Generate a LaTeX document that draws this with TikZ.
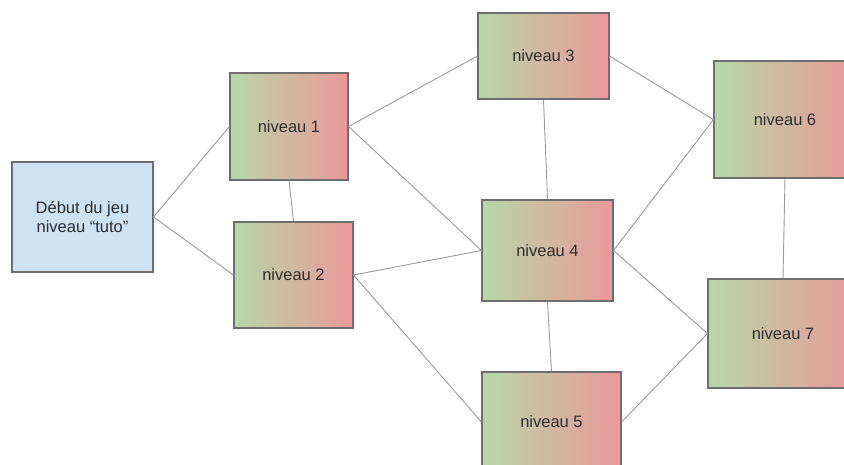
\documentclass[tikz,border=0pt]{standalone}
\usepackage{fontspec}
\setmainfont{Liberation Sans}

\definecolor{startblue}{HTML}{CFE2F3}
\definecolor{lvlgreen}{HTML}{B6D7A8}
\definecolor{lvlred}{HTML}{EA9999}
\definecolor{boxgray}{HTML}{6E6E6E}
\definecolor{linkgray}{HTML}{9A9A9A}
\definecolor{textgray}{HTML}{2E2E2E}

\tikzset{
  levelbox/.style={draw=boxgray, line width=1.1pt, left color=lvlgreen, right color=lvlred,
    text=textgray, inner sep=0pt, font=\fontsize{16.5}{19}\selectfont},
  startbox/.style={draw=boxgray, line width=1.1pt, fill=startblue, text=textgray,
    inner sep=0pt, align=center, font=\fontsize{16.5}{19}\selectfont},
  link/.style={draw=linkgray, line width=0.9pt}
}

\begin{document}
\begin{tikzpicture}[x=1pt, y=-1pt]

  \useasboundingbox (0,0) rectangle (844,464);
  \clip (0,0) rectangle (844,464);

  \node[startbox, minimum width=141pt, minimum height=110pt] (start) at (82.5,217) {Début du jeu\\niveau “tuto”};

  \node[levelbox, minimum width=118pt, minimum height=107pt] (n1) at (289,126.5) {niveau 1};
  \node[levelbox, minimum width=119pt, minimum height=106pt] (n2) at (293.5,275) {niveau 2};
  \node[levelbox, minimum width=131pt, minimum height=86pt] (n3) at (543.5,56) {niveau 3};
  \node[levelbox, minimum width=131pt, minimum height=101pt] (n4) at (547.5,250.5) {niveau 4};
  \node[levelbox, minimum width=139pt, minimum height=100pt] (n5) at (551.5,422) {niveau 5};
  \node[levelbox, minimum width=142pt, minimum height=117pt] (n6) at (785,119.5) {niveau 6};
  \node[levelbox, minimum width=150pt, minimum height=109pt] (n7) at (783,333.5) {niveau 7};

  \draw[link] (start.east) -- (n1.west);
  \draw[link] (start.east) -- (n2.west);
  \draw[link] (n1.south) -- (n2.north);
  \draw[link] (n1.east) -- (n3.west);
  \draw[link] (n1.east) -- (n4.west);
  \draw[link] (n2.east) -- (n4.west);
  \draw[link] (n2.east) -- (n5.west);
  \draw[link] (n3.south) -- (n4.north);
  \draw[link] (n4.south) -- (n5.north);
  \draw[link] (n3.east) -- (n6.west);
  \draw[link] (n4.east) -- (n6.west);
  \draw[link] (n4.east) -- (n7.west);
  \draw[link] (n5.east) -- (n7.west);
  \draw[link] (n6.south) -- (n7.north);

\end{tikzpicture}
\end{document}
